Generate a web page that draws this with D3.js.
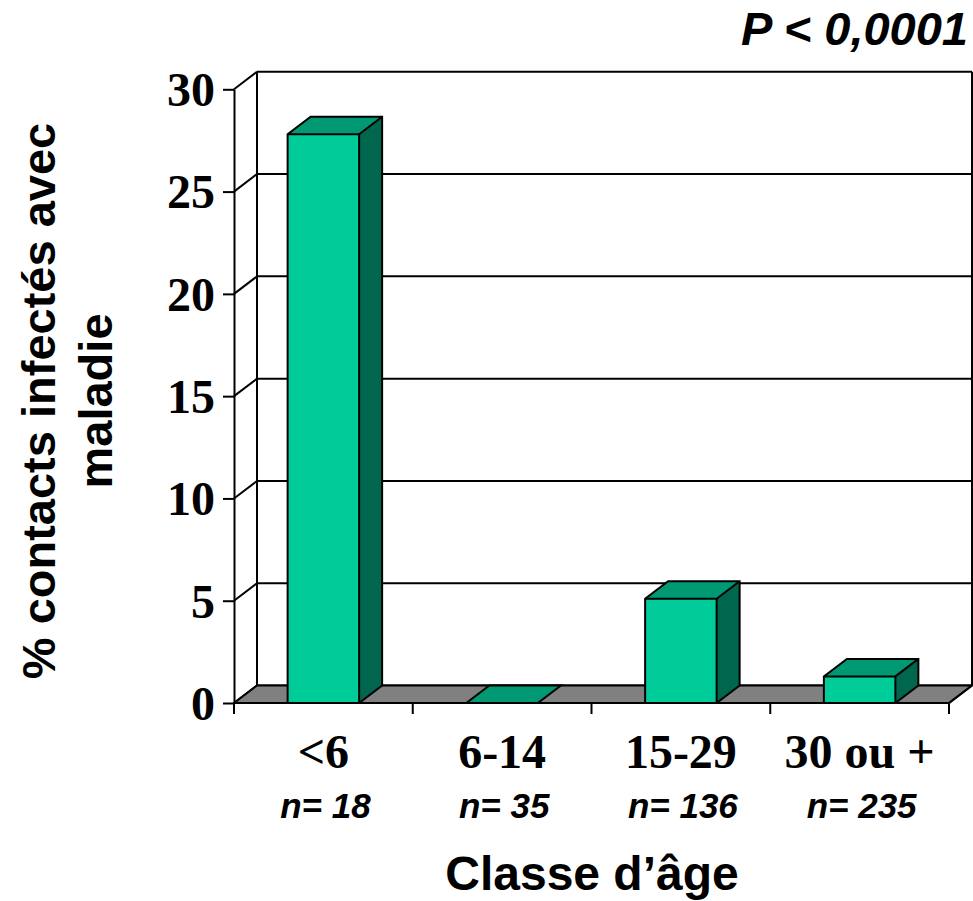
<!DOCTYPE html>
<html>
<head>
<meta charset="utf-8">
<script src="https://cdn.jsdelivr.net/npm/d3@7"></script>
<style>
  html, body { margin: 0; padding: 0; background: #ffffff; }
  svg { display: block; }
</style>
</head>
<body>
<svg id="chart" width="973" height="901"></svg>
<script>
// Age classes, infected contacts with disease (%), and group sizes
const categories = ["<6", "6-14", "15-29", "30 ou +"];
const values = [27.8, 0, 5.1, 1.3];
const groupSizes = ["n= 18", "n= 35", "n= 136", "n= 235"];
const yTicks = [0, 5, 10, 15, 20, 25, 30];
const yTitleLines = ["% contacts infectés avec", "maladie"];
const xTitle = "Classe d’âge";
const pValueText = "P < 0,0001";

const svg = d3.select("#chart");
const serif = "'Liberation Serif', 'Times New Roman', serif";
const sans = "'Liberation Sans', Arial, sans-serif";

// 3D offsets of the box (depth towards the upper right)
const DX = 23, DY = -17.5;
const FRONT_COLOR = "#00cc99", TOP_COLOR = "#009973", SIDE_COLOR = "#00664d";
const FLOOR_COLOR = "#808080";
const STROKE = "#000000", SW = 2;

const x = d3.scaleBand()
  .domain(categories)
  .range([234, 949])
  .paddingInner(0.6)
  .paddingOuter(0.3);
const y = d3.scaleLinear().domain([0, 30]).range([703, 89.3]);

const x0 = x.range()[0], x1 = x.range()[1];
const yTop = y(30), yBase = y(0);
const step = x.step();
const boundaries = d3.range(categories.length + 1).map(i => x0 + i * step);

const walls = svg.append("g");

// Back wall gridlines
walls.selectAll("line.grid")
  .data(yTicks)
  .join("line")
  .attr("class", "grid")
  .attr("x1", x0 + DX).attr("x2", x1 + DX)
  .attr("y1", d => y(d) + DY).attr("y2", d => y(d) + DY)
  .attr("stroke", STROKE).attr("stroke-width", SW);

// Left wall diagonals
walls.selectAll("line.diag")
  .data(yTicks)
  .join("line")
  .attr("class", "diag")
  .attr("x1", x0).attr("x2", x0 + DX)
  .attr("y1", d => y(d)).attr("y2", d => y(d) + DY)
  .attr("stroke", STROKE).attr("stroke-width", SW);

// Wall edges: back-left vertical and back-right vertical
walls.append("line")
  .attr("x1", x0 + DX).attr("x2", x0 + DX)
  .attr("y1", yTop + DY).attr("y2", yBase + DY)
  .attr("stroke", STROKE).attr("stroke-width", SW);
walls.append("line")
  .attr("x1", x1 + DX).attr("x2", x1 + DX)
  .attr("y1", yTop + DY).attr("y2", yBase + DY)
  .attr("stroke", STROKE).attr("stroke-width", SW);

// Floor
walls.append("path")
  .attr("d", `M${x0},${yBase} L${x0 + DX},${yBase + DY} L${x1 + DX},${yBase + DY} L${x1},${yBase} Z`)
  .attr("fill", FLOOR_COLOR)
  .attr("stroke", STROKE).attr("stroke-width", SW)
  .attr("stroke-linejoin", "miter");

// Bars
const bars = svg.append("g")
  .selectAll("g.bar")
  .data(categories.map((c, i) => ({ c, v: values[i] })))
  .join("g")
  .attr("class", "bar");

bars.each(function (d) {
  const g = d3.select(this);
  const L = x(d.c), R = x(d.c) + x.bandwidth();
  const T = y(d.v), B = y(0);
  if (d.v > 0) {
    g.append("path")
      .attr("d", `M${L},${B} L${R},${B} L${R},${T} L${L},${T} Z`)
      .attr("fill", FRONT_COLOR);
    g.append("path")
      .attr("d", `M${R},${B} L${R + DX},${B + DY} L${R + DX},${T + DY} L${R},${T} Z`)
      .attr("fill", SIDE_COLOR);
  }
  g.append("path")
    .attr("d", `M${L},${T} L${R},${T} L${R + DX},${T + DY} L${L + DX},${T + DY} Z`)
    .attr("fill", TOP_COLOR);
  // outlines
  const outline = d.v > 0
    ? `M${L},${B} L${R},${B} L${R + DX},${B + DY} L${R + DX},${T + DY} L${L + DX},${T + DY} L${L},${T} Z M${L},${T} L${R},${T} L${R + DX},${T + DY} M${R},${T} L${R},${B}`
    : `M${L},${T} L${R},${T} L${R + DX},${T + DY} L${L + DX},${T + DY} Z`;
  g.append("path")
    .attr("d", outline)
    .attr("fill", "none")
    .attr("stroke", STROKE).attr("stroke-width", SW)
    .attr("stroke-linejoin", "miter");
});

// Y axis
const yAxis = svg.append("g")
  .attr("transform", `translate(${x0},0)`)
  .call(d3.axisLeft(y).tickValues(yTicks).tickSize(11).tickSizeOuter(0).tickPadding(8));
yAxis.select(".domain").attr("stroke", STROKE).attr("stroke-width", SW);
yAxis.selectAll(".tick line").attr("stroke", STROKE).attr("stroke-width", SW);
yAxis.selectAll(".tick text")
  .attr("font-family", serif)
  .attr("font-weight", "bold")
  .attr("font-size", 48)
  .attr("fill", "#000")
  .attr("dy", "0.34em");

// X axis line and ticks at band boundaries
svg.append("line")
  .attr("x1", x0).attr("x2", x1)
  .attr("y1", yBase).attr("y2", yBase)
  .attr("stroke", STROKE).attr("stroke-width", SW);
svg.selectAll("line.xtick")
  .data(boundaries)
  .join("line")
  .attr("class", "xtick")
  .attr("x1", d => d).attr("x2", d => d)
  .attr("y1", yBase).attr("y2", yBase + 11)
  .attr("stroke", STROKE).attr("stroke-width", SW);
// Right floor edge
svg.append("line")
  .attr("x1", x1).attr("x2", x1 + DX)
  .attr("y1", yBase).attr("y2", yBase + DY)
  .attr("stroke", STROKE).attr("stroke-width", SW);

// Category labels
svg.selectAll("text.cat")
  .data(categories)
  .join("text")
  .attr("class", "cat")
  .attr("x", d => x(d) + x.bandwidth() / 2)
  .attr("y", 768)
  .attr("text-anchor", "middle")
  .attr("font-family", serif)
  .attr("font-weight", "bold")
  .attr("font-size", 48)
  .text(d => d);

svg.selectAll("text.n")
  .data(categories.map((c, i) => ({ c, n: groupSizes[i] })))
  .join("text")
  .attr("class", "n")
  .attr("x", d => x(d.c) + x.bandwidth() / 2 + 2)
  .attr("y", 818)
  .attr("text-anchor", "middle")
  .attr("font-family", sans)
  .attr("font-weight", "bold")
  .attr("font-style", "italic")
  .attr("font-size", 35)
  .text(d => d.n);

// X title
svg.append("text")
  .attr("x", 592)
  .attr("y", 890)
  .attr("text-anchor", "middle")
  .attr("font-family", sans)
  .attr("font-weight", "bold")
  .attr("font-size", 48)
  .text(xTitle);

// Y title (two lines, rotated)
const yTitle = svg.append("text")
  .attr("transform", "translate(55,401) rotate(-90)")
  .attr("text-anchor", "middle")
  .attr("font-family", sans)
  .attr("font-weight", "bold")
  .attr("font-size", 47);
yTitleLines.forEach((line, i) => {
  yTitle.append("tspan")
    .attr("x", 0)
    .attr("y", i * 57)
    .text(line);
});

// Significance
svg.append("text")
  .attr("x", 968)
  .attr("y", 45)
  .attr("text-anchor", "end")
  .attr("font-family", sans)
  .attr("font-weight", "bold")
  .attr("font-style", "italic")
  .attr("font-size", 47)
  .text(pValueText);
</script>
</body>
</html>
